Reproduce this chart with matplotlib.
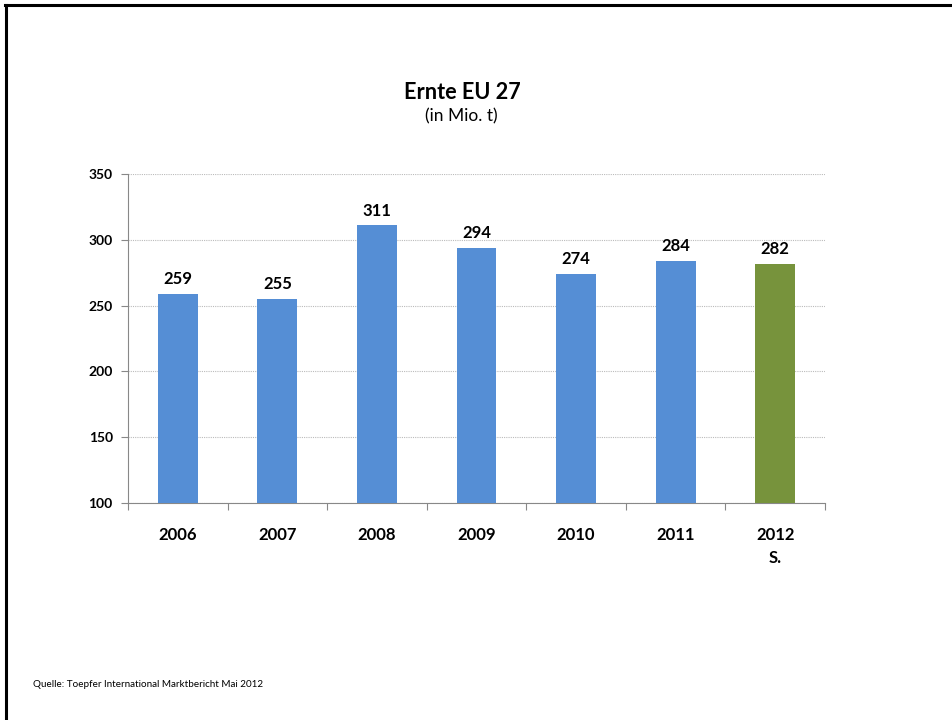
import matplotlib.pyplot as plt
from matplotlib.lines import Line2D
import numpy as np

plt.rcParams['font.family'] = ['Lato', 'DejaVu Sans']

# Harvest data (Mio. t)
years = ['2006', '2007', '2008', '2009', '2010', '2011', '2012\nS.']
harvest = [259, 255, 311, 294, 274, 284, 282]
colors = ['#558ED5'] * 6 + ['#77933C']
yticks = [100, 150, 200, 250, 300, 350]

fig = plt.figure(figsize=(9.52, 7.2), dpi=100)
ax = fig.add_axes([0.1345, 0.3014, 0.7321, 0.4569])

x = np.arange(len(years))
ax.bar(x, harvest, width=0.4, color=colors, zorder=3)
for xi, v in zip(x, harvest):
    ax.text(xi, v + 5, str(v), ha='center', va='bottom', fontsize=12,
            fontweight='bold', zorder=4)

ax.set_xlim(-0.5, len(years) - 0.5)
ax.set_ylim(100, 350)
ax.set_yticks(yticks)
ax.set_yticklabels([str(t) for t in yticks], fontsize=10, fontweight='bold')
ax.yaxis.grid(True, linestyle=(0, (1, 1)), color='#BBBBBB', linewidth=0.8)
ax.set_axisbelow(True)

# x ticks at category boundaries, labels at centers
ax.set_xticks(np.arange(-0.5, len(years)), minor=False)
ax.set_xticklabels([])
ax.set_xticks(x, minor=True)
ax.set_xticklabels(years, minor=True, fontsize=12, fontweight='bold',
                   linespacing=1.55)
ax.tick_params(axis='x', which='minor', length=0, pad=17)
ax.tick_params(axis='x', which='major', length=5, color='#888888')
ax.tick_params(axis='y', length=5, color='#888888', pad=6)

for s in ['top', 'right']:
    ax.spines[s].set_visible(False)
ax.spines['left'].set_color('#888888')
ax.spines['bottom'].set_color('#888888')

fig.text(0.4853, 0.872, 'Ernte EU 27', ha='center', va='center',
         fontsize=15.6, fontweight='bold')
fig.text(0.4843, 0.838, '(in Mio. t)', ha='center', va='center', fontsize=12.5)
fig.text(0.035, 0.049, 'Quelle: Toepfer International Marktbericht Mai 2012',
         ha='left', va='center', fontsize=7.1)

# frame lines at top and left
fig.add_artist(Line2D([0.005, 1], [0.993, 0.993], color='black', linewidth=2.2))
fig.add_artist(Line2D([0.0063, 0.0063], [0, 0.993], color='black', linewidth=2.2))

plt.savefig('out.png', dpi=100)
